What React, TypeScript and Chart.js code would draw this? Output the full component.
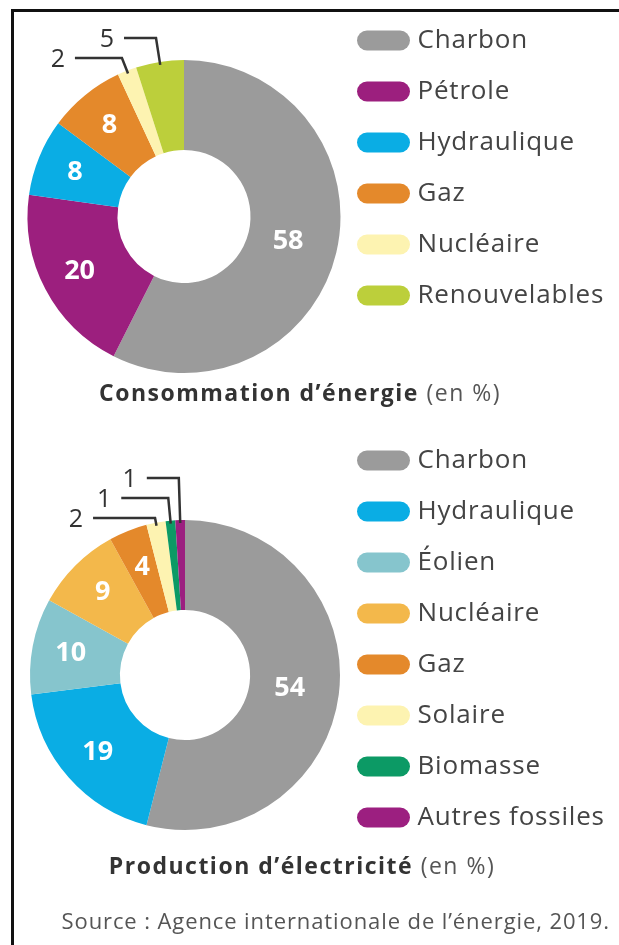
import React, { useEffect, useRef } from "react";
import { Chart, registerables } from "chart.js";

Chart.register(...registerables);

// ---------- DATA ----------
const energyLabels = ["Charbon", "Pétrole", "Hydraulique", "Gaz", "Nucléaire", "Renouvelables"];
const energyValues = [58, 20, 8, 8, 2, 5];
const energyColors = ["#9b9b9b", "#9c1f7e", "#0aade4", "#e4892b", "#fdf3b1", "#bccf3b"];
const energyCallout = [false, false, false, false, true, true];

const elecLabels = ["Charbon", "Hydraulique", "Éolien", "Nucléaire", "Gaz", "Solaire", "Biomasse", "Autres fossiles"];
const elecValues = [54, 19, 10, 9, 4, 2, 1, 1];
const elecColors = ["#9b9b9b", "#0aade4", "#86c5cd", "#f3b84b", "#e4892b", "#fdf3b1", "#0c9a65", "#9c1f80"];
const elecCallout = [false, false, false, false, false, true, true, true];

const energyTitleBold = "Consommation d’énergie";
const elecTitleBold = "Production d’électricité";
const titleUnit = " (en %)";
const sourceText = "Source : Agence internationale de l’énergie, 2019.";

// ---------- STYLE ----------
const FONT = "'Open Sans', sans-serif";
const W = 619;
const LEGEND_SIZE = 26;
const LEGEND_SPACING = "0.8px";
const LEGEND_PAD = 25;
const BOX_W = 42;
const ITEM_X = 362.5;

function makePill(color: string) {
  const c = document.createElement("canvas");
  c.width = 53;
  c.height = 21;
  const g = c.getContext("2d")!;
  g.fillStyle = color;
  g.beginPath();
  const r = 10;
  g.moveTo(r, 0.5);
  g.lineTo(53 - r, 0.5);
  g.arc(53 - r, 10.5, 10, -Math.PI / 2, Math.PI / 2);
  g.lineTo(r, 20.5);
  g.arc(r, 10.5, 10, Math.PI / 2, (3 * Math.PI) / 2);
  g.closePath();
  g.fill();
  return c;
}

const spacingPlugin = {
  id: "letterSpacing",
  beforeUpdate(chart: any) {
    (chart.ctx as any).letterSpacing = LEGEND_SPACING;
  },
  beforeDraw(chart: any) {
    (chart.ctx as any).letterSpacing = LEGEND_SPACING;
  },
};

type DonutProps = {
  labels: string[];
  values: number[];
  colors: string[];
  callout: boolean[];
  top: number;
  height: number;
  cx: number;
  cy: number;
  radius: number;
  cutout: string;
  firstItemY: number;
};

function Donut(p: DonutProps) {
  const ref = useRef<HTMLCanvasElement>(null);
  useEffect(() => {
    const canvas = ref.current!;
    const mctx = canvas.getContext("2d")!;
    mctx.font = `${LEGEND_SIZE}px ${FONT}`;
    (mctx as any).letterSpacing = LEGEND_SPACING;
    const maxText = Math.max(...p.labels.map((l) => mctx.measureText(l).width));
    const legendLeft = ITEM_X - LEGEND_PAD;
    const legendWidth = LEGEND_PAD + BOX_W + LEGEND_SIZE / 2 + maxText + 10;
    const pr = Math.max(0, W - legendLeft - legendWidth);
    const pl = 2 * p.cx - legendLeft;
    const pt = p.firstItemY - p.top - LEGEND_PAD - LEGEND_SIZE / 2;
    const pb = p.height - (2 * (p.cy - p.top) - pt);
    const pills = p.colors.map(makePill);

    const sliceLabels = {
      id: "sliceLabels",
      afterDatasetsDraw(chart: any) {
        const ctx = chart.ctx as CanvasRenderingContext2D;
        const meta = chart.getDatasetMeta(0);
        const data = chart.data.datasets[0].data as number[];
        const calloutIdx = meta.data.map((_: any, i: number) => i).filter((i: number) => p.callout[i]);
        const n = calloutIdx.length;
        meta.data.forEach((arc: any, i: number) => {
          const a = arc.getProps(["x", "y", "startAngle", "endAngle", "innerRadius", "outerRadius"], true);
          const mid = (a.startAngle + a.endAngle) / 2;
          const txt = String(data[i]);
          ctx.save();
          (ctx as any).letterSpacing = "0px";
          if (!p.callout[i]) {
            const share = (a.endAngle - a.startAngle) / (2 * Math.PI);
            const f = share > 0.3 ? 0.45 : 0.57;
            const r = a.innerRadius + (a.outerRadius - a.innerRadius) * f;
            ctx.font = `700 27px ${FONT}`;
            ctx.fillStyle = "#ffffff";
            ctx.textAlign = "center";
            ctx.textBaseline = "middle";
            ctx.fillText(txt, a.x + r * Math.cos(mid), a.y + r * Math.sin(mid));
          } else {
            const rank = calloutIdx.indexOf(i);
            const r0 = a.outerRadius - 3;
            const sx = a.x + r0 * Math.cos(mid);
            const sy = a.y + r0 * Math.sin(mid);
            const ey = a.y - a.outerRadius - 2 - 20 * rank;
            const t = (ey - sy) / Math.sin(mid);
            const ex = sx + t * Math.cos(mid);
            const len = 32 + 15 * (n - 1 - rank);
            const hx = ex - len;
            ctx.strokeStyle = "#333333";
            ctx.lineWidth = 2.5;
            ctx.lineJoin = "miter";
            ctx.beginPath();
            ctx.moveTo(sx, sy);
            ctx.lineTo(ex, ey);
            ctx.lineTo(hx, ey);
            ctx.stroke();
            ctx.font = `400 25px ${FONT}`;
            ctx.fillStyle = "#333333";
            ctx.textAlign = "right";
            ctx.textBaseline = "middle";
            ctx.fillText(txt, hx - 10, ey + 2);
          }
          ctx.restore();
        });
      },
    };

    const chart = new Chart(canvas, {
      type: "doughnut",
      data: {
        labels: p.labels,
        datasets: [
          {
            data: p.values,
            backgroundColor: p.colors,
            borderWidth: 0,
            radius: p.radius,
            cutout: p.cutout,
          } as any,
        ],
      },
      options: {
        responsive: false,
        animation: false,
        layout: { padding: { left: pl, right: pr, top: pt, bottom: pb } },
        plugins: {
          tooltip: { enabled: false },
          legend: {
            position: "right",
            align: "start",
            maxWidth: 500,
            labels: {
              usePointStyle: true,
              pointStyleWidth: BOX_W,
              padding: LEGEND_PAD,
              color: "#444444",
              font: { family: FONT, size: LEGEND_SIZE },
              generateLabels: (ch: any) => {
                const base = (Chart as any).overrides.doughnut.plugins.legend.labels.generateLabels(ch);
                return base.map((it: any, i: number) => ({ ...it, pointStyle: pills[i], text: p.labels[i] }));
              },
            },
          } as any,
        },
      } as any,
      plugins: [spacingPlugin as any, sliceLabels as any],
    });
    return () => chart.destroy();
  }, []);
  return (
    <canvas
      ref={ref}
      width={W}
      height={p.height}
      style={{ position: "absolute", left: 0, top: p.top, width: W, height: p.height }}
    />
  );
}

export default function App() {
  const titleStyle: React.CSSProperties = {
    position: "absolute",
    left: 0,
    width: 600,
    textAlign: "center",
    fontFamily: FONT,
    fontSize: 23,
    lineHeight: "30px",
    letterSpacing: "1.5px",
    color: "#555555",
    whiteSpace: "nowrap",
  };
  return (
    <div
      style={{
        position: "fixed",
        left: 0,
        top: 0,
        width: W,
        height: 945,
        overflow: "hidden",
        background: "#ffffff",
      }}
    >
      <div
        style={{
          position: "absolute",
          left: 11,
          top: 9,
          width: 800,
          height: 1200,
          borderLeft: "3px solid #111111",
          borderTop: "3px solid #111111",
        }}
      />
      <Donut
        labels={energyLabels}
        values={energyValues}
        colors={energyColors}
        callout={energyCallout}
        top={0}
        height={432}
        cx={184}
        cy={216.5}
        radius={156.5}
        cutout="42.5%"
        firstItemY={40.5}
      />
      <Donut
        labels={elecLabels}
        values={elecValues}
        colors={elecColors}
        callout={elecCallout}
        top={420}
        height={510}
        cx={185}
        cy={675}
        radius={155}
        cutout="42%"
        firstItemY={460.5}
      />
      <div style={{ ...titleStyle, top: 377 }}>
        <span style={{ fontWeight: 700, color: "#333333" }}>{energyTitleBold}</span>
        {titleUnit}
      </div>
      <div style={{ ...titleStyle, top: 850, left: 2 }}>
        <span style={{ fontWeight: 700, color: "#333333" }}>{elecTitleBold}</span>
        {titleUnit}
      </div>
      <div
        style={{
          position: "absolute",
          right: 9,
          top: 904.5,
          fontFamily: FONT,
          fontSize: 22,
          lineHeight: "30px",
          letterSpacing: "0.9px",
          color: "#555555",
          whiteSpace: "nowrap",
        }}
      >
        {sourceText}
      </div>
    </div>
  );
}
